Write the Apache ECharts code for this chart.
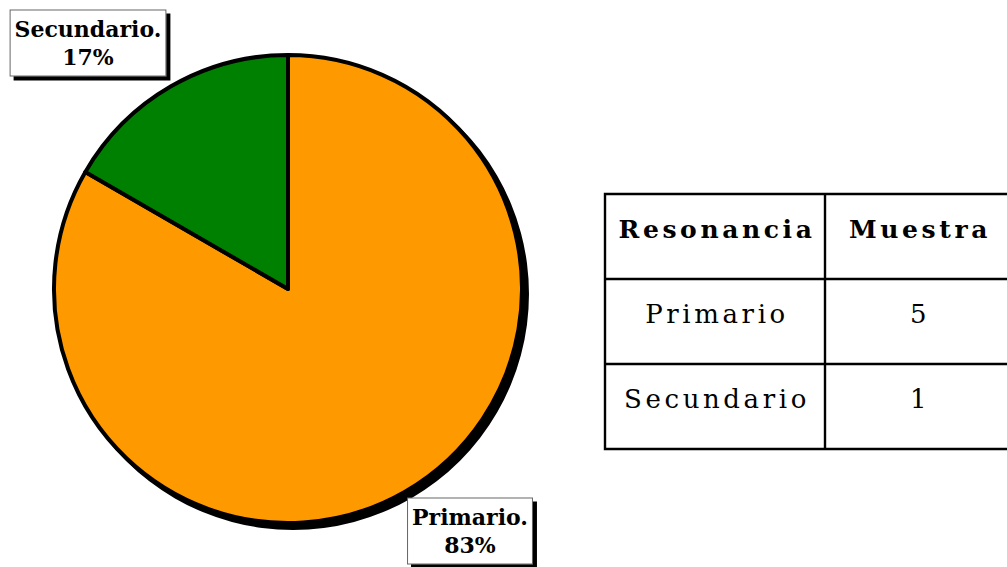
<!DOCTYPE html>
<html>
<head>
<meta charset="utf-8">
<script src="https://cdn.jsdelivr.net/npm/echarts@6/dist/echarts.min.js"></script>
<style>
  html, body { margin: 0; padding: 0; background: #fff; }
  #chart { width: 1007px; height: 567px; }
  /* espaciado de letras solo para los textos de la tabla */
  #chart text[style*="Georgia"] { letter-spacing: 3.6px; }
</style>
</head>
<body>
<div id="chart"></div>
<script>
const categories = ['Primario', 'Secundario'];
const counts = [5, 1];
const tableHeader = ['Resonancia', 'Muestra'];

const chart = echarts.init(document.getElementById('chart'), null, { renderer: 'svg' });

// tabla a la derecha, dibujada con elementos graphic
const tableLeft = 605;
const tableTop = 194;
const colWidths = [220, 186];
const rowHeight = 85;

const buildTable = () => {
    const rows = [tableHeader].concat(categories.map((c, i) => [c, String(counts[i])]));
    const totalW = colWidths[0] + colWidths[1];
    const totalH = rowHeight * rows.length;
    const lineStyle = { stroke: '#000', lineWidth: 2.4 };
    const els = [{
        type: 'rect',
        shape: { x: tableLeft, y: tableTop, width: totalW, height: totalH },
        style: { fill: '#fff', stroke: '#000', lineWidth: 2.4 }
    }, {
        type: 'line',
        shape: { x1: tableLeft + colWidths[0], y1: tableTop, x2: tableLeft + colWidths[0], y2: tableTop + totalH },
        style: lineStyle
    }];
    for (let r = 1; r < rows.length; r++) {
        els.push({
            type: 'line',
            shape: { x1: tableLeft, y1: tableTop + r * rowHeight, x2: tableLeft + totalW, y2: tableTop + r * rowHeight },
            style: lineStyle
        });
    }
    rows.forEach((row, r) => {
        let x = tableLeft;
        row.forEach((cell, c) => {
            els.push({
                type: 'text',
                style: {
                    text: cell,
                    x: x + colWidths[c] / 2 + 2,
                    y: tableTop + r * rowHeight + 35,
                    align: 'center',
                    verticalAlign: 'middle',
                    fontFamily: "'DejaVu Serif', Georgia",
                    fontWeight: r === 0 ? 'bold' : 'normal',
                    fontSize: r === 0 ? 25 : 26,
                    fill: '#000'
                }
            });
            x += colWidths[c];
        });
    });
    return els;
};

const pieData = categories.map((name, i) => ({ name, value: counts[i] }));
const total = counts.reduce((a, b) => a + b, 0);

chart.setOption({
    animation: false,
    graphic: buildTable(),
    series: [
        {
            // sombra negra del pastel
            type: 'pie',
            silent: true,
            z: 1,
            center: [293, 294],
            radius: 236,
            label: { show: false },
            labelLine: { show: false },
            itemStyle: { color: '#000' },
            data: [{ name: 'sombra', value: total }]
        },
        {
            type: 'pie',
            z: 2,
            center: [288, 289],
            radius: 234,
            startAngle: 90,
            clockwise: true,
            percentPrecision: 0,
            color: ['#FF9900', '#008000'],
            itemStyle: { borderColor: '#000', borderWidth: 4 },
            labelLine: { show: false },
            label: {
                show: true,
                position: 'inside',
                formatter: '{b}.\n{d}%',
                fontFamily: 'DejaVu Serif',
                fontWeight: 'bold',
                fontSize: 22,
                lineHeight: 28,
                align: 'center',
                color: '#000',
                backgroundColor: '#fff',
                borderColor: '#666',
                borderWidth: 1,
                padding: [5, 4, 4, 4],
                shadowColor: '#000',
                shadowOffsetX: 4,
                shadowOffsetY: 4,
                shadowBlur: 0
            },
            labelLayout: (params) => {
                const spots = [[470, 531], [88, 43]];
                const p = spots[params.dataIndex];
                return { x: p[0], y: p[1], align: 'center', verticalAlign: 'middle' };
            },
            data: pieData
        }
    ]
});
</script>
</body>
</html>
